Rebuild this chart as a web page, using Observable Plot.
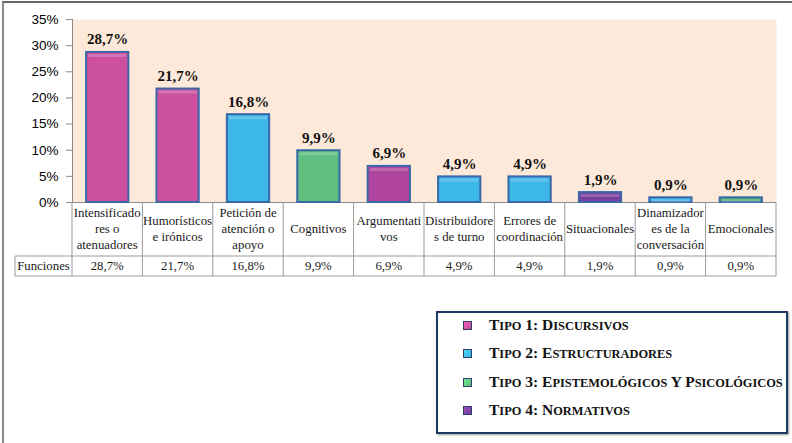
<!DOCTYPE html>
<html>
<head>
<meta charset="utf-8">
<script src="https://cdn.jsdelivr.net/npm/d3@7"></script>
<script src="https://cdn.jsdelivr.net/npm/@observablehq/plot@0.6"></script>
<style>
  body { margin: 0; background: #fff; }
  #wrap { position: relative; width: 792px; height: 443px; overflow: hidden; background: #fff; }
  #chart { position: absolute; left: 0; top: 0; }
  #border { position: absolute; left: 2px; top: 1px; width: 820px; height: 480px;
            border-top: 2px solid #666; border-left: 2px solid #8a8a8a; pointer-events: none; }
  #legend { position: absolute; left: 436px; top: 311px; width: 348px; height: 119px;
            border: 2.5px solid #1f3864; box-shadow: 1px 1px 2px #999;
            font-family: "Liberation Serif", serif; font-weight: bold;
            font-size: 15.5px; color: #111; }
  .item { position: absolute; left: 0; height: 20px; line-height: 20px; white-space: nowrap; }
  .sw { position: absolute; left: 25px; top: 6px; width: 7px; height: 7px; border: 1px solid #2d3f66; }
  .lt { position: absolute; left: 51px; top: 0; }
  .sc { font-size: 0.8em; }
  .serif text, text.serif { font-family: "Liberation Serif", serif !important; }
</style>
</head>
<body>
<div id="wrap">
  <div id="chart"></div>
  <div id="legend"></div>
  <div id="border"></div>
</div>
<script>
// ---- data ----
const categories = [
  "Intensificadores o atenuadores", "Humorísticos e irónicos", "Petición de atención o apoyo",
  "Cognitivos", "Argumentativos", "Distribuidores de turno", "Errores de coordinación",
  "Situacionales", "Dinamizadores de la conversación", "Emocionales"
];
const tableLabels = [
  "Intensificado\nres o\natenuadores", "Humorísticos\ne irónicos", "Petición de\natención o\napoyo",
  "Cognitivos", "Argumentati\nvos", "Distribuidore\ns de turno", "Errores de\ncoordinación",
  "Situacionales", "Dinamizador\nes de la\nconversación", "Emocionales"
];
const values = [0.287, 0.217, 0.168, 0.099, 0.069, 0.049, 0.049, 0.019, 0.009, 0.009];
const seriesName = "Funciones";
const yTicks = [0, 0.05, 0.10, 0.15, 0.20, 0.25, 0.30, 0.35];
const legendTypes = [
  "Tipo 1: Discursivos",
  "Tipo 2: Estructuradores",
  "Tipo 3: Epistemológicos Y Psicológicos",
  "Tipo 4: Normativos"
];

const data = categories.map((c, i) => ({cat: c, value: values[i], label: tableLabels[i]}));
const esFmt = d3.formatLocale({decimal: ",", thousands: ".", grouping: [3], currency: ["", "€"]}).format(".1%");

const barColors = ["#cc509f", "#cc509f", "#3db6e8", "#5fbf80", "#b0449e",
                   "#3db6e8", "#3db6e8", "#7a3e9e", "#3db6e8", "#4db070"];
const legendColors = ["#c44c9c", "#3aaee0", "#5dbb7a", "#7a3e9e"];

const chart = Plot.plot({
  width: 792,
  height: 282,
  marginLeft: 72,
  marginRight: 16,
  marginTop: 19,
  marginBottom: 80,
  style: {fontFamily: "Liberation Sans, Arial, sans-serif", fontSize: "13px", color: "#000", background: "transparent"},
  x: {domain: categories, paddingInner: 0.4, paddingOuter: 0.2, round: false, axis: null},
  y: {domain: [0, 0.35], axis: null},
  color: {domain: categories, range: barColors},
  marks: [
    Plot.frame({fill: "#fde9d9", stroke: null}),
    Plot.axisY({ticks: yTicks, tickFormat: d => Math.round(d * 100) + "%", tickSize: 6, tickPadding: 8,
                stroke: "#8c8c8c", fontSize: 13.5, label: null}),
    Plot.frame({anchor: "left", stroke: "#8c8c8c"}),
    Plot.ruleY([0], {stroke: "#8c8c8c"}),
    Plot.barY(data, {x: "cat", y: "value", fill: "cat", stroke: "#3a68a6", strokeWidth: 2}),
    Plot.tickY(data, {x: "cat", y: "value", dy: 3, stroke: "#ffffff", strokeOpacity: 0.2, strokeWidth: 3, inset: 2}),
    Plot.text(data, {x: "cat", y: "value", text: d => esFmt(d.value), dy: -8, lineAnchor: "bottom",
                     fontWeight: "bold", fontSize: 15, fontFamily: "Liberation Serif", fill: "#111",
                     className: "serif"})
  ]
});
document.getElementById("chart").appendChild(chart);

// ---- data table under the axis, positioned from Plot's own scales ----
const xs = chart.scale("x");
const ys = chart.scale("y");
const y0 = ys.apply(0);
const step = xs.step;
const left = i => xs.apply(categories[i]) + xs.bandwidth / 2 - step / 2;
const center = i => xs.apply(categories[i]) + xs.bandwidth / 2;
const xEnd = left(categories.length - 1) + step;
const rowSplit = y0 + 54, rowEnd = y0 + 74, headLeft = 15;

const svg = d3.select(chart);
const g = svg.append("g").attr("class", "serif").attr("font-size", 12.8).attr("fill", "#1a1a1a");
const lineColor = "#9a9a9a";
categories.forEach((c, i) => {
  g.append("line").attr("x1", left(i)).attr("x2", left(i)).attr("y1", y0).attr("y2", rowEnd)
    .attr("stroke", lineColor);
});
g.append("line").attr("x1", xEnd).attr("x2", xEnd).attr("y1", y0).attr("y2", rowEnd).attr("stroke", lineColor);
g.append("line").attr("x1", headLeft).attr("x2", headLeft).attr("y1", rowSplit).attr("y2", rowEnd).attr("stroke", lineColor);
g.append("line").attr("x1", headLeft).attr("x2", xEnd).attr("y1", rowSplit).attr("y2", rowSplit).attr("stroke", lineColor);
g.append("line").attr("x1", headLeft).attr("x2", xEnd).attr("y1", rowEnd).attr("y2", rowEnd).attr("stroke", lineColor);

const lh = 16;
data.forEach((d, i) => {
  const lines = d.label.split("\n");
  const cy = y0 + 27 - (lines.length - 1) * lh / 2;
  const t = g.append("text").attr("text-anchor", "middle").attr("dominant-baseline", "central");
  lines.forEach((ln, k) => {
    t.append("tspan").attr("x", center(i)).attr("y", cy + k * lh).text(ln);
  });
  g.append("text").attr("text-anchor", "middle").attr("dominant-baseline", "central")
    .attr("x", center(i)).attr("y", (rowSplit + rowEnd) / 2).text(esFmt(d.value));
});
g.append("text").attr("text-anchor", "middle").attr("dominant-baseline", "central")
  .attr("x", (headLeft + left(0)) / 2).attr("y", (rowSplit + rowEnd) / 2).text(seriesName);

// ---- legend (manual small caps) ----
const legend = document.getElementById("legend");
legendTypes.forEach((name, i) => {
  const it = document.createElement("div");
  it.className = "item";
  it.style.top = (2 + i * 28.4) + "px";
  const sw = document.createElement("div");
  sw.className = "sw";
  sw.style.background = `linear-gradient(135deg, ${d3.color(legendColors[i]).brighter(0.6)}, ${legendColors[i]})`;
  const lt = document.createElement("span");
  lt.className = "lt";
  const runs = name.match(/[a-záéíóúñ]+|[^a-záéíóúñ]+/g);
  runs.forEach(r => {
    if (/^[a-záéíóúñ]+$/.test(r)) {
      const s = document.createElement("span");
      s.className = "sc";
      s.textContent = r.toUpperCase();
      lt.appendChild(s);
    } else {
      lt.appendChild(document.createTextNode(r));
    }
  });
  it.appendChild(sw);
  it.appendChild(lt);
  legend.appendChild(it);
});
</script>
</body>
</html>
